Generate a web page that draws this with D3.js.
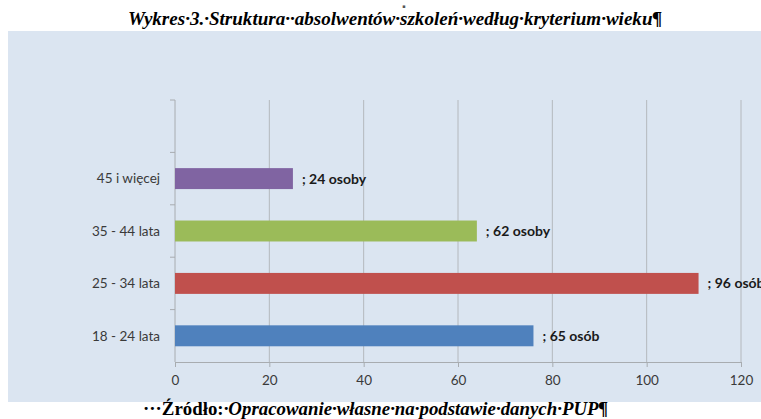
<!DOCTYPE html>
<html><head><meta charset="utf-8">
<script src="https://cdn.jsdelivr.net/npm/d3@7"></script>
<style>body{margin:0;background:#fff;} svg{display:block;}</style>
</head><body>
<script>
const categories = ["18 - 24 lata", "25 - 34 lata", "35 - 44 lata", "45 i więcej", ""];
const barValues = [76, 111, 64, 25];
const dataLabels = ["; 65 osób", "; 96 osób", "; 62 osoby", "; 24 osoby"];
const barColors = ["#4f81bd", "#c0504d", "#9bbb59", "#8064a2"];
const xTicks = [0, 20, 40, 60, 80, 100, 120];
const titleText = "Wykres·3.·Struktura··absolwentów·szkoleń·według·kryterium·wieku¶";
const sourceBold = "···Źródło:";
const sourceItalic = "·Opracowanie·własne·na·podstawie·danych·PUP¶";

const W = 761, H = 419;
const svg = d3.select("body").append("svg").attr("width", W).attr("height", H);

// chart background
svg.append("rect").attr("x", 8).attr("y", 31).attr("width", W - 8).attr("height", 371).attr("fill", "#dbe5f1");

const x = d3.scaleLinear().domain([0, 120]).range([175, 741]);
const y = d3.scaleBand().domain(categories).range([362, 100]).paddingInner(0.6).paddingOuter(0.3);

// gridlines
svg.append("g").selectAll("line").data(xTicks.slice(1)).join("line")
  .attr("x1", d => x(d)).attr("x2", d => x(d)).attr("y1", 100).attr("y2", 362)
  .attr("stroke", "#b4b8bd").attr("stroke-width", 1);

// x axis
const xAxis = svg.append("g").attr("transform", "translate(0,362)")
  .call(d3.axisBottom(x).tickValues(xTicks).tickSize(5).tickPadding(8));
xAxis.select(".domain").attr("stroke", "#a8acb0");
xAxis.selectAll(".tick line").attr("stroke", "#a8acb0");
xAxis.selectAll("text").attr("font-family", "Lato, 'Open Sans', sans-serif").attr("font-size", 13.5).attr("fill", "#3a3a3a");

// y axis
const yAxisG = svg.append("g");
yAxisG.append("line").attr("x1", 175).attr("x2", 175).attr("y1", 100).attr("y2", 362).attr("stroke", "#a8acb0");
yAxisG.selectAll("line.tk").data(categories).join("line").attr("class", "tk")
  .attr("x1", 170).attr("x2", 175)
  .attr("y1", c => y(c) - y.paddingInner() * y.step() / 2)
  .attr("y2", c => y(c) - y.paddingInner() * y.step() / 2)
  .attr("stroke", "#a8acb0");
yAxisG.selectAll("text").data(categories.filter(c => c)).join("text")
  .attr("x", 160).attr("y", d => y(d) + y.bandwidth() / 2).attr("dy", "0.35em")
  .attr("text-anchor", "end").attr("font-family", "Lato, 'Open Sans', sans-serif")
  .attr("font-size", 13.5).attr("fill", "#3a3a3a").text(d => d);

// bars
svg.append("g").selectAll("rect").data(barValues).join("rect")
  .attr("x", x(0)).attr("y", (d, i) => y(categories[i]))
  .attr("width", d => x(d) - x(0)).attr("height", y.bandwidth())
  .attr("fill", (d, i) => barColors[i]);

// data labels
svg.append("g").selectAll("text").data(barValues).join("text")
  .attr("x", d => x(d) + 9).attr("y", (d, i) => y(categories[i]) + y.bandwidth() / 2).attr("dy", "0.35em")
  .attr("font-family", "Lato, 'Open Sans', sans-serif").attr("font-weight", "bold")
  .attr("font-size", 14).attr("fill", "#1a1a1a").text((d, i) => dataLabels[i]);

// title
svg.append("text").attr("x", 128).attr("y", 25)
  .attr("font-family", "'Liberation Serif', 'DejaVu Serif', serif").attr("font-style", "italic").attr("font-weight", "bold")
  .attr("font-size", 19).attr("fill", "#000")
  .attr("textLength", 534).attr("lengthAdjust", "spacingAndGlyphs").text(titleText);
svg.append("text").attr("x", 404).attr("y", 8).attr("text-anchor", "middle")
  .attr("font-family", "'DejaVu Sans', sans-serif").attr("font-size", 5).attr("fill", "#555").text("▪");

// source
const src = svg.append("text").attr("x", 143).attr("y", 415)
  .attr("font-family", "'Liberation Serif', 'DejaVu Serif', serif").attr("font-weight", "bold")
  .attr("font-size", 18).attr("fill", "#000")
  .attr("textLength", 465).attr("lengthAdjust", "spacingAndGlyphs");
src.append("tspan").text(sourceBold);
src.append("tspan").attr("font-style", "italic").text(sourceItalic);
</script>
</body></html>
